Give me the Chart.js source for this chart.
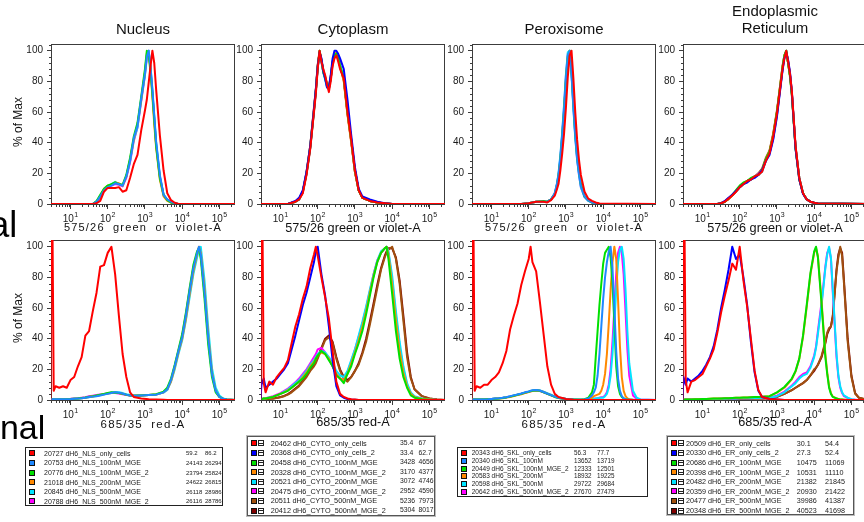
<!DOCTYPE html>
<html><head><meta charset="utf-8">
<script src="https://cdn.jsdelivr.net/npm/chart.js@4.4.1/dist/chart.umd.min.js"></script>
<style>
html,body{margin:0;padding:0;background:#fff;}
body{width:864px;height:522px;overflow:hidden;position:relative;font-family:"Liberation Sans",Arial,Helvetica,sans-serif;color:#111;}
.t{position:absolute;white-space:pre;line-height:1;}
canvas{position:absolute;}
.box{position:absolute;box-sizing:border-box;}
.sw{position:absolute;width:6px;height:6px;box-sizing:border-box;border:1px solid #111;}
.ic{position:absolute;width:6px;height:6px;box-sizing:border-box;border:1px solid #222;background:linear-gradient(#222,#222) center/100% 1px no-repeat #fff;}
</style></head><body>
<script>
// ---------------- axis / tick data ----------------
const xTickValues = [10, 100, 1000, 10000, 100000];
const xTickExponents = ["1", "2", "3", "4", "5"];
const yTickValues = [0, 20, 40, 60, 80, 100];
const xMin = 3, xMax = 262144, yMin = 0, yMax = 104.4;
const columnTitles = ["Nucleus", "Cytoplasm", "Peroxisome", "Endoplasmic\nReticulum"];
const rowAxisTitles = ["575/26 green or violet-A", "685/35 red-A"];
const yAxisTitle = "% of Max";
const sideLabels = ["al", "nal"];

// ---------------- Nucleus, top (575/26) ----------------
const n1LogX = [0.46,1.6,1.7,1.8,1.9,2.0,2.1,2.2,2.3,2.4,2.5,2.6,2.7,2.8,2.9,3.0,3.05,3.1,3.15,3.2,3.25,3.3,3.4,3.5,3.6,3.7,3.8,3.9,5.45];
const n1Red     = [0,0,0.5,2,8,10.5,10.5,10.5,11,8, 9,17,26,32,48,61,68,79,90,100, 92,75,45,22,7,2.5,0.8,0,0];
const n1Blue    = [0,0,1.5,5,9,11,12,13.5,13,12, 18,28,43,51,69,85,96,100,89,75, 58,41,19,6,3,1.5,0.5,0,0];
const n1Green   = [0,0,2,6,10,12,13,14,13,12.5, 19,30,44,53,70,88,100,97,86,72, 55,38,17,6,2.5,1,0.3,0,0];
const n1Orange  = [0,0,1.5,5,10,12,12.5,14,13.5,12, 18,29,42,52,68,86,98,99,88,70, 52,37,16,5,2,1,0.3,0,0];
const n1Cyan    = [0,0,1.5,5,9.5,12,13,14.5,13,12, 18,28,42,50,68,84,97,100,90,74, 57,40,18,6,2.5,1,0.4,0,0];
const n1Magenta = [0,0,1,4,9,11,12,13,12.5,11.5, 17,27,41,50,67,84,95,100,88,73, 56,39,18,6,2.5,1,0.4,0,0];

// ---------------- Nucleus, bottom (685/35) ----------------
const n2LogX = [0.46,0.49,0.55,0.6,0.7,0.8,0.9,1.0,1.1,1.2,1.3,1.4,1.5,1.6,1.7,1.8,1.9,2.0,2.1,2.2,2.3,2.4,2.5,2.6,2.7,2.9,3.1,3.3,3.5,3.6,3.7,3.8,3.9,4.0,4.1,4.2,4.3,4.4,4.45,4.5,4.6,4.7,4.8,4.9,5.0,5.1,5.2,5.45];
const n2Red     = [0,200,6,9,8,9,8,13,15,22, 28,42,45,58,70,87,88,96,100,82, 55,30,15,5,2,1,0.5,0.3,0.2,0, 0,0,0,0,0,0,0,0,0,0, 0,0,0,0,0,0,0,0];
const n2Blue    = [0,0.5,0.5,0.5,0.5,0.5,0.5,0.5,0.8,1, 1.2,1.5,2,2.2,2.5,3,3.5,4,4.5,5, 4.8,4.2,3.5,3,2.8,3,3.2,3.5,5,7, 13,22,32,41,55,71,86,96,100,95, 70,40,17,6,2,0.8,0.3,0];
const n2Green   = [0,0.3,0.3,0.3,0.4,0.4,0.5,0.6,0.8,1, 1.3,1.6,2.2,2.5,3,3.5,4,4.5,5,4.8, 4.5,4,3.4,3,2.8,3,3.3,3.8,5.5,8, 14,23,33,43,57,73,88,97,99,92, 66,36,15,5,2,0.7,0.3,0];
const n2Orange  = [0,0.3,0.3,0.4,0.4,0.5,0.5,0.6,0.8,1, 1.2,1.5,2,2.3,2.7,3.2,3.7,4.2,4.6,4.8, 4.6,4.1,3.5,3,2.9,3,3.3,3.6,5,7, 12,21,31,40,53,69,84,95,100,96, 73,42,18,6,2,0.8,0.3,0];
const n2Cyan    = [0,0.4,0.4,0.4,0.5,0.5,0.6,0.6,0.8,1, 1.2,1.4,1.8,2.2,2.6,3.2,3.8,4.3,4.8,5.2, 5,4.5,3.8,3.2,3,3.1,3.3,3.6,4.8,6.5, 12,20,30,39,52,67,82,93,98,100, 78,47,21,8,3,1,0.4,0];
const n2Magenta = [0,0.3,0.3,0.4,0.5,0.6,0.7,0.8,1,1.2, 1.5,1.8,2.4,2.8,3.2,3.6,4,4.4,4.7,4.6, 4.3,3.8,3.2,2.9,2.8,3,3.2,3.6,5,7, 13,22,32,42,56,72,86,96,99,94, 70,40,17,6,2,0.8,0.3,0];

// ---------------- Cytoplasm, top ----------------
const c1LogX = [0.46,1.2,1.4,1.5,1.6,1.7,1.8,1.9,1.95,2.0,2.05,2.1,2.15,2.2,2.25,2.3,2.35,2.4,2.45,2.5,2.55,2.6,2.7,2.8,2.9,3.0,3.1,3.2,3.4,3.6,3.8,4.0,5.45];
const c1Red     = [0,0,1.5,3,7,19,36,60,72,88, 100,93,88,84,78,73,80,90,95,97, 93,88,82,60,42,22,9,4,2,1, 0.5,0,0];
const c1Blue    = [0,0,2,4,9,21,38,62,75,90, 99,95,87,82,76,76,84,95,100,100, 98,95,88,68,45,24,10,5,3,1.5, 0.5,0,0];
const c1Green   = [0,0,1.5,3,8,20,37,61,74,89, 100,94,86,82,78,76,82,92,97,98, 95,90,82,60,42,22,9,4,2,1, 0.4,0,0];
const c1Orange  = [0,0,1.5,3.5,8,20,38,62,74,90, 99,94,87,83,79,77,83,93,97,99, 96,90,80,58,40,21,9,4,2,1, 0.4,0,0];
const c1Cyan    = [0,0,1.5,3,8,20,37,61,73,89, 98,93,86,81,76,75,82,93,98,99, 96,91,82,60,42,22,9,4,2,1, 0.4,0,0];
const c1Magenta = [0,0,1.5,3,8,20,37,62,74,89, 99,93,86,82,77,75,82,91,96,98, 95,90,82,60,41,22,9,4,2,1, 0.4,0,0];
const c1Brown   = [0,0,1.5,3,8,21,38,63,75,91, 100,94,87,83,78,76,83,93,97,98, 96,90,81,59,41,21,9,4,2,1, 0.4,0,0];
const c1DarkRed = [0,0,1.5,3,8,20,37,61,74,90, 99,93,86,82,77,75,82,92,97,98, 95,90,81,59,41,21,9,4,2,1, 0.4,0,0];

// ---------------- Cytoplasm, bottom ----------------
const c2LogX = [0.46,0.49,0.55,0.6,0.7,0.8,0.9,1.0,1.1,1.2,1.3,1.4,1.5,1.6,1.7,1.8,1.9,1.95,2.0,2.1,2.2,2.3,2.4,2.5,2.6,2.7,2.8,2.9,3.0,3.1,3.2,3.3,3.4,3.5,3.6,3.7,3.8,3.85,3.9,4.0,4.1,4.2,4.3,4.4,4.5,4.6,4.8,5.0,5.2,5.45];
const c2Red     = [0,200,11,5,12,10,15,18,21,26, 37,48,56,66,74,86,95,100,94,80, 67,53,32,12,4,2,1,0.5,0.3,0, 0,0,0,0,0,0,0,0,0,0, 0,0,0,0,0,0,0,0,0,0];
const c2Blue    = [0,10,14,8,10,12,14,17,20,24, 33,42,52,62,70,80,90,97,100,82, 68,48,26,9,3,1.5,0.7,0.3,0.2,0, 0,0,0,0,0,0,0,0,0,0, 0,0,0,0,0,0,0,0,0,0];
const c2Green   = [0,0.5,1,1,1.5,2,3,4,5,6, 8,10,12,14,17,21,24,27,29,32, 30,26,22,16,14,11,17,22,30,37, 45,56,68,80,90,96,99,100,92,69, 45,27,15,8,3,1.5,0.5,0.2,0,0];
const c2Orange  = [0,0.5,1,1,1.5,2,3,4,5,6.5, 8,10,12,15,18,22,25,27,29,31, 30,27,22,17,14,13,17,24,31,39, 48,58,70,81,90,96,99,100,95,75, 52,32,18,9,4,2,0.7,0.3,0,0];
const c2Cyan    = [0,0.5,1,1.2,1.6,2.2,3,4,5.5,7, 9,11,13,16,19,23,26,28,30,32, 31,28,24,19,16,15,19,26,33,42, 51,61,72,82,91,97,99,100,97,81, 58,38,22,11,5,2.5,1,0.4,0,0];
const c2Magenta = [0,0.5,1,1.2,1.8,2.5,3.5,4.5,6,7.5, 9.5,11.5,14,17,20,24,28,30,33,34, 31,27,22,17,14,13,18,25,33,41, 50,60,71,82,91,96,99,100,96,78, 55,35,20,10,4.5,2,0.8,0.3,0,0];
const c2Brown   = [0,0.3,0.5,0.6,0.8,1,1.3,1.8,2.5,3.5, 5,7,9,12,15,19,22,24,27,33, 39,41,37,27,19,14,12,15,19,23, 30,38,49,61,73,85,93,96,98,100, 92,76,52,28,14,7,2.5,1,0.3,0];
const c2DarkRed = [0,0.3,0.5,0.6,0.8,1,1.4,2,2.7,3.8, 5.5,7.5,9.5,12.5,16,20,23,25,28,34, 40,42,38,28,20,15,13,15,19,24, 31,40,51,63,75,86,94,97,99,99, 93,78,55,31,15,7,2.5,1,0.3,0];

// ---------------- Peroxisome, top ----------------
const p1LogX = [0.46,1.8,2.0,2.2,2.4,2.5,2.6,2.7,2.75,2.8,2.85,2.9,2.95,3.0,3.05,3.1,3.15,3.2,3.25,3.3,3.35,3.4,3.5,3.6,3.7,3.8,3.9,5.45];
const p1Red     = [0,0,0.5,1.5,1.5,1,2.5,5.5,9,13, 22,33,46,63,83,97,100,82,60,42, 29,19,8,3.5,2,1,0.3,0];
const p1Blue    = [0,0,0.5,1.5,1.5,1.5,3,7,12,19, 30,45,62,82,97,100,85,64,45,30, 20,12,5,2.5,1,0.5,0,0];
const p1Green   = [0,0,0.5,1.5,2,1.5,3,6.5,11,18, 29,44,61,81,96,100,87,66,46,31, 21,13,5,2.5,1,0.5,0,0];
const p1Orange  = [0,0,0.5,1.5,1.5,1.5,3,6.5,11,18, 28,42,60,80,95,100,88,68,48,33, 22,13,5,2.5,1,0.5,0,0];
const p1Cyan    = [0,0,0.5,1.5,1.5,1.5,3,7,12,20, 32,47,65,85,99,100,84,62,43,29, 19,11,4.5,2,1,0.4,0,0];
const p1Magenta = [0,0,0.5,1.5,1.5,1.5,3,7,12,19, 31,46,64,84,98,99,85,63,44,29, 19,11,4.5,2,1,0.4,0,0];

// ---------------- Peroxisome, bottom ----------------
const p2LogX = [0.46,0.49,0.55,0.6,0.7,0.8,0.9,1.0,1.1,1.2,1.3,1.4,1.5,1.6,1.7,1.8,1.9,2.0,2.05,2.1,2.2,2.3,2.4,2.5,2.6,2.7,2.8,3.0,3.2,3.4,3.5,3.6,3.7,3.75,3.8,3.85,3.9,3.95,4.0,4.05,4.1,4.15,4.2,4.25,4.3,4.35,4.4,4.45,4.5,4.55,4.6,4.65,4.7,4.8,4.9,5.0,5.45];
const p2Red     = [0,200,6,9,8,10,10,13,15,18, 24,32,46,55,63,75,84,92,100,90, 84,64,43,22,10,4,2,0.7,0.2,0, 0,0,0,0,0,0,0,0,0,0, 0,0,0,0,0,0,0,0,0,0, 0,0,0,0,0,0,0];
const p2Blue    = [0,0.3,0.3,0.3,0.4,0.4,0.5,0.7,0.9,1.1, 1.4,1.8,2.4,3,3.6,4.2,5,5.6,6,6.3, 6.5,6.2,5.2,4.2,3.2,2.2,1.4,0.6,0.3,0.2, 0.3,1,3,5,8,16,30,48,66,80, 90,97,100,86,60,32,14,6,2.5,1, 0.5,0.3,0.2,0.1,0,0,0];
const p2Green   = [0,0.3,0.3,0.3,0.3,0.4,0.5,0.6,0.8,1, 1.3,1.7,2.2,2.8,3.4,4,4.8,5.4,5.8,6, 6.3,6,5,4,3,2,1.3,0.5,0.3,0.2, 0.5,1.5,5,10,28,45,62,76,89,96, 98,100,93,76,50,22,9,4,2,1, 0.5,0.3,0.2,0,0,0,0];
const p2Orange  = [0,0.3,0.3,0.3,0.3,0.4,0.5,0.6,0.8,1, 1.2,1.6,2,2.6,3.2,3.8,4.5,5.2,5.6,5.9, 6.2,6,5.2,4.2,3.2,2.2,1.4,0.6,0.3,0.2, 0.2,0.5,1.5,2.5,3,3.5,4,6,10,17, 30,50,72,90,100,92,65,35,15,6, 2.5,1,0.5,0.2,0,0,0];
const p2Cyan    = [0,0.4,0.4,0.4,0.4,0.5,0.6,0.7,0.9,1.1, 1.4,1.8,2.3,2.9,3.5,4.1,4.8,5.4,5.8,6.1, 6.4,6.2,5.4,4.4,3.4,2.4,1.6,0.8,0.4,0.3, 0.2,0.4,0.6,0.8,1,1.2,1.4,1.5,1.5,2.5, 4,8,16,30,50,72,90,98,100,92, 72,45,24,6,1.5,0.4,0];
const p2Magenta = [0,0.3,0.3,0.4,0.4,0.5,0.6,0.7,0.9,1.1, 1.4,1.8,2.3,2.9,3.5,4.1,4.7,5.3,5.7,6, 6.2,5.9,5,4,3,2.1,1.3,0.6,0.3,0.2, 0.2,0.4,0.6,0.8,1,1.2,1.5,1.8,2,3, 5,10,20,38,60,82,96,100,96,82, 58,33,16,3,0.8,0.3,0];

// ---------------- Endoplasmic Reticulum, top ----------------
const e1LogX = [0.46,1.4,1.5,1.6,1.7,1.8,1.9,2.0,2.1,2.2,2.3,2.4,2.5,2.6,2.7,2.8,2.9,3.0,3.1,3.15,3.2,3.25,3.3,3.35,3.4,3.5,3.6,3.7,3.8,3.9,4.0,4.1,5.45];
const e1Red     = [0,0,0.5,1.5,3.5,5.5,8,11,13,15, 16,18,19,21,28,33,44,59,78,88, 95,100,93,85,74,38,17,7,3,1.5, 0.8,0.3,0];
const e1Blue    = [0,0,0.5,2,4,6,8.5,11,13,14, 16,17,19,22,28,32,42,57,77,87, 95,99,94,86,73,36,16,6.5,3,1.5, 0.8,0.3,0];
const e1Green   = [0,0,0.5,1.5,3.5,6,9,12,14,15, 17,18,19,22,29,34,44,60,79,89, 97,100,92,83,71,36,16,7,3,1.5, 0.8,0.3,0];
const e1Orange  = [0,0,0.5,1.5,3,5.5,8,11,13,15, 16,18,19,22,29,34,45,60,80,90, 97,99,92,84,72,37,16,7,3,1.5, 0.8,0.3,0];
const e1Cyan    = [0,0,0.5,1.5,3.5,5.5,8,11,13,14.5, 16,17.5,19,21,28,33,43,58,78,88, 96,100,93,85,73,37,17,7,3,1.5, 0.8,0.3,0];
const e1Magenta = [0,0,0.5,1.5,3.5,5.5,8,11,13,15, 16.5,18,19.5,22,28,33,43,58,78,88, 96,99,93,85,73,37,16,7,3,1.5, 0.8,0.3,0];
const e1Brown   = [0,0,0.5,1.5,3.5,5.5,8,11,13,15, 16,18,20,23,30,35,46,61,80,90, 97,100,92,84,72,37,17,7,3,1.5, 0.8,0.3,0];
const e1DarkRed = [0,0,0.5,1.5,3.5,5.5,8,11,13,15, 16,18,19,22,29,34,45,60,79,89, 96,99,92,84,72,37,17,7,3,1.5, 0.8,0.3,0];

// ---------------- Endoplasmic Reticulum, bottom ----------------
const e2LogX = [0.46,0.49,0.55,0.6,0.7,0.8,0.9,1.0,1.1,1.2,1.3,1.4,1.5,1.6,1.7,1.8,1.9,2.0,2.1,2.2,2.3,2.4,2.5,2.6,2.8,3.0,3.2,3.4,3.5,3.6,3.7,3.8,3.9,4.0,4.05,4.1,4.2,4.3,4.35,4.4,4.45,4.5,4.6,4.65,4.7,4.75,4.8,4.9,5.0,5.1,5.2,5.45];
const e2Red     = [0,200,13,5,12,13,15,17,22,27, 33,44,57,68,78,89,85,100,78,61, 40,19,6.5,2,0.7,0.3,0,0,0,0, 0,0,0,0,0,0,0,0,0,0, 0,0,0,0,0,0,0,0,0,0, 0,0];
const e2Blue    = [0,15,10,14,12,14,16,19,23,28, 35,46,60,72,85,100,92,95,80,62, 38,18,6,2,0.7,0.3,0,0,0,0, 0,0,0,0,0,0,0,0,0,0, 0,0,0,0,0,0,0,0,0,0, 0,0];
const e2Green   = [0,0.2,0.3,0.3,0.4,0.5,0.5,0.6,0.7,0.8, 0.9,1,1,1.1,1.2,1.3,1.4,1.5,1.6,1.7, 1.8,1.9,2,2.2,2.5,5,8.5,14,19,27, 42,62,83,97,100,93,62,28,17,8, 4,2,1,0.6,0.4,0.3,0.2,0,0,0, 0,0];
const e2Orange  = [0,0.2,0.3,0.3,0.4,0.5,0.5,0.6,0.7,0.8, 0.9,1,1,1.1,1.2,1.3,1.4,1.5,1.6,1.7, 1.8,1.9,2,2.2,2.5,4.8,8,13.5,18.5,27, 41,61,82,96,99,94,64,30,18,9, 4.5,2.2,1.1,0.7,0.4,0.3,0.2,0,0,0, 0,0];
const e2Cyan    = [0,0.2,0.2,0.3,0.3,0.4,0.4,0.5,0.5,0.6, 0.6,0.7,0.8,0.8,0.9,1,1,1.1,1.1,1.2, 1.2,1.3,1.3,1.4,1.5,2.5,5,9,11,14, 16,17,21,28,34,43,62,86,95,100, 93,72,30,16,9,5,3,1.5,0.5,0.2, 0,0];
const e2Magenta = [0,0.2,0.2,0.3,0.3,0.4,0.4,0.5,0.5,0.6, 0.6,0.7,0.8,0.8,0.9,1,1,1.1,1.1,1.2, 1.2,1.3,1.3,1.4,1.6,2.8,5.5,9.5,12,15, 17,18,22,29,35,45,64,87,96,99, 92,70,28,15,8,4.5,2.5,1.2,0.4,0.2, 0,0];
const e2Brown   = [0,0.1,0.1,0.1,0.2,0.2,0.2,0.3,0.3,0.3, 0.4,0.4,0.5,0.5,0.5,0.6,0.6,0.7,0.7,0.8, 0.8,0.9,0.9,1,1.2,2,4,6.5,8,9.5, 11,13,16,20,21,23,29,38,44,47, 48,54,84,93,100,94,76,38,15,4, 1.5,0];
const e2DarkRed = [0,0.1,0.1,0.1,0.2,0.2,0.2,0.3,0.3,0.3, 0.4,0.4,0.5,0.5,0.5,0.6,0.6,0.7,0.7,0.8, 0.8,0.9,0.9,1,1.2,2,4,6.5,8,9.5, 11,13,16,19,21,23,28,37,43,46, 48,55,85,95,99,96,78,40,16,4.5, 1.5,0];

// ---------------- legend tables ----------------
const nucIds = ["20727","20753","20776","21018","20845","20788"];
const nucNames = ["dH6_NLS_only_cells","dH6_NLS_100nM_MGE","dH6_NLS_100nM_MGE_2","dH6_NLS_200nM_MGE","dH6_NLS_500nM_MGE","dH6_NLS_500nM_MGE_2"];
const nucMedian = ["59.2","24143","23794","24622","26118","26116"];
const nucMean = ["86.2","26294","25824","26815","28986","28786"];

const cytoIds = ["20462","20368","20458","20328","20521","20475","20511","20412"];
const cytoNames = ["dH6_CYTO_only_cells","dH6_CYTO_only_cells_2","dH6_CYTO_100nM_MGE","dH6_CYTO_100nM_MGE_2","dH6_CYTO_200nM_MGE","dH6_CYTO_200nM_MGE_2","dH6_CYTO_500nM_MGE","dH6_CYTO_500nM_MGE_2"];
const cytoMedian = ["35.4","33.4","3428","3170","3072","2952","5236","5304"];
const cytoMean = ["67","62.7","4656","4377","4746","4590","7973","8017"];

const sklIds = ["20343","20340","20449","20583","20598","20642"];
const sklNames = ["dH6_SKL_only_cells","dH6_SKL_100nM","dH6_SKL_100nM_MGE_2","dH6_SKL_200nM","dH6_SKL_500nM","dH6_SKL_500nM_MGE_2"];
const sklMedian = ["56.3","13652","12333","18932","29722","27670"];
const sklMean = ["77.7","13719","12501","19225","29684","27479"];

const erIds = ["20509","20330","20686","20398","20482","20359","20477","20348"];
const erNames = ["dH6_ER_only_cells","dH6_ER_only_cells_2","dH6_ER_100nM_MGE","dH6_ER_100nM_MGE_2","dH6_ER_200nM_MGE","dH6_ER_200nM_MGE_2","dH6_ER_500nM_MGE","dH6_ER_500nM_MGE_2"];
const erMedian = ["30.1","27.3","10475","10531","21382","20930","39986","40523"];
const erMean = ["54.4","52.4","11069","11110","21845","21422","41387","41698"];

// ---------------- styles & layout ----------------
const COL = {red:"#ff0000", dblue:"#1e88ff", blue:"#0000ff", green:"#00e000", orange:"#ff8800",
             cyan:"#00e4ff", magenta:"#ff00ff", brown:"#a0500f", darkred:"#800000"};
const nucColors = [COL.red, COL.dblue, COL.green, COL.orange, COL.cyan, COL.magenta];
const cytoColors = [COL.red, COL.blue, COL.green, COL.orange, COL.cyan, COL.magenta, COL.brown, COL.darkred];
const sklColors = nucColors;
const erColors = cytoColors;
const FONT = '"Liberation Sans", Arial, Helvetica, sans-serif';
const FRAME = "#3c3c3c", TEXT = "#1a1a1a";
const colLeft = [51, 261, 472, 683];
const rowTop = [42, 238];
const plotW = 184, plotH = 162;
const padL = 40, padT = 8, padR = 8, padB = 22;

const panels = [
  {col:0,row:0,logX:n1LogX,series:[n1Red,n1Blue,n1Green,n1Orange,n1Cyan,n1Magenta],colors:nucColors},
  {col:1,row:0,logX:c1LogX,series:[c1Red,c1Blue,c1Green,c1Orange,c1Cyan,c1Magenta,c1Brown,c1DarkRed],colors:cytoColors},
  {col:2,row:0,logX:p1LogX,series:[p1Red,p1Blue,p1Green,p1Orange,p1Cyan,p1Magenta],colors:sklColors},
  {col:3,row:0,logX:e1LogX,series:[e1Red,e1Blue,e1Green,e1Orange,e1Cyan,e1Magenta,e1Brown,e1DarkRed],colors:erColors},
  {col:0,row:1,logX:n2LogX,series:[n2Red,n2Blue,n2Green,n2Orange,n2Cyan,n2Magenta],colors:nucColors},
  {col:1,row:1,logX:c2LogX,series:[c2Red,c2Blue,c2Green,c2Orange,c2Cyan,c2Magenta,c2Brown,c2DarkRed],colors:cytoColors},
  {col:2,row:1,logX:p2LogX,series:[p2Red,p2Blue,p2Green,p2Orange,p2Cyan,p2Magenta],colors:sklColors},
  {col:3,row:1,logX:e2LogX,series:[e2Red,e2Blue,e2Green,e2Orange,e2Cyan,e2Magenta,e2Brown,e2DarkRed],colors:erColors}
];

const axisDecor = {
  id: 'axisDecor',
  beforeDatasetsDraw(chart) {
    const {ctx, chartArea: a} = chart;
    ctx.save();
    ctx.strokeStyle = FRAME; ctx.lineWidth = 1;
    ctx.strokeRect(a.left + 0.5, a.top + 0.5, a.right - a.left - 1, a.bottom - a.top);
    ctx.restore();
  },
  afterDraw(chart) {
    const {ctx, chartArea: a, scales: {x, y}} = chart;
    ctx.save();
    ctx.strokeStyle = FRAME; ctx.lineWidth = 1;
    ctx.beginPath();
    for (let d = 0; d < 6; d++) {
      for (let k = 2; k <= 9; k++) {
        const v = k * Math.pow(10, d);
        if (v < xMin || v > xMax) continue;
        const px = Math.round(x.getPixelForValue(v)) + 0.5;
        ctx.moveTo(px, a.bottom); ctx.lineTo(px, a.bottom + 3);
      }
    }
    for (let v = 4; v < yMax; v += 4) {
      if (v % 20 === 0) continue;
      const py = Math.round(y.getPixelForValue(v)) + 0.5;
      ctx.moveTo(a.left - 2, py); ctx.lineTo(a.left, py);
    }
    ctx.stroke();
    ctx.fillStyle = TEXT;
    ctx.textBaseline = 'alphabetic';
    xTickValues.forEach((v, i) => {
      const px = x.getPixelForValue(v);
      ctx.font = '10px ' + FONT;
      const w1 = ctx.measureText('10').width;
      ctx.font = '7px ' + FONT;
      const w2 = ctx.measureText(xTickExponents[i]).width;
      const x0 = px - (w1 + w2 + 0.5) / 2;
      ctx.font = '10px ' + FONT;
      ctx.fillText('10', x0, a.bottom + 17.5);
      ctx.font = '7px ' + FONT;
      ctx.fillText(xTickExponents[i], x0 + w1 + 0.5, a.bottom + 12.5);
    });
    ctx.restore();
  }
};

function makePanel(p) {
  const L = colLeft[p.col], T = rowTop[p.row];
  const cv = document.createElement('canvas');
  cv.width = plotW + padL + padR; cv.height = plotH + padT + padB;
  cv.style.left = (L - padL) + 'px'; cv.style.top = (T - padT) + 'px';
  cv.style.width = cv.width + 'px'; cv.style.height = cv.height + 'px';
  document.body.appendChild(cv);
  const datasets = p.series.map((ys, i) => ({
    data: p.logX.map((lg, j) => ({x: Math.pow(10, lg), y: ys[j]})),
    borderColor: p.colors[i], backgroundColor: p.colors[i],
    borderWidth: 2, pointRadius: 0, tension: 0, fill: false, borderJoinStyle: 'round'
  }));
  new Chart(cv, {
    type: 'line',
    data: {datasets},
    options: {
      responsive: false, animation: false, devicePixelRatio: 1,
      layout: {padding: {left: 0, top: padT, right: padR, bottom: 0}},
      plugins: {legend: {display: false}, tooltip: {enabled: false}, title: {display: false}},
      scales: {
        x: {
          type: 'logarithmic', min: xMin, max: xMax,
          afterBuildTicks: s => { s.ticks = xTickValues.map(v => ({value: v, major: true})); },
          ticks: {display: false},
          grid: {drawOnChartArea: false, drawTicks: true, tickLength: 5, color: FRAME, lineWidth: 1},
          border: {display: false},
          afterFit: s => { s.height = padB; }
        },
        y: {
          type: 'linear', min: yMin, max: yMax,
          afterBuildTicks: s => { s.ticks = yTickValues.map(v => ({value: v})); },
          ticks: {font: {size: 10, family: FONT}, color: TEXT, padding: 4},
          grid: {drawOnChartArea: false, drawTicks: true, tickLength: 4, color: FRAME, lineWidth: 1},
          border: {display: false},
          afterFit: s => { s.width = padL; }
        }
      }
    },
    plugins: [axisDecor]
  });
}
panels.forEach(makePanel);

// ---------------- texts ----------------
function txt(s, left, top, css) {
  const d = document.createElement('div');
  d.className = 't'; d.textContent = s;
  d.style.left = left + 'px'; d.style.top = top + 'px';
  Object.assign(d.style, css || {});
  document.body.appendChild(d);
  return d;
}
function ctxt(s, cx, top, css) {
  return txt(s, cx - 150, top, Object.assign({width: '300px', textAlign: 'center'}, css || {}));
}
columnTitles.forEach((s, c) => {
  const cx = colLeft[c] + plotW / 2;
  if (s.indexOf('\n') >= 0) ctxt(s, cx, 3.2, {fontSize: '15px', lineHeight: '16.6px'});
  else ctxt(s, cx, 21.3, {fontSize: '15px'});
});
const spacedCols = [0, 2];
[0, 1].forEach(r => {
  [0, 1, 2, 3].forEach(c => {
    const cx = colLeft[c] + plotW / 2;
    if (spacedCols.indexOf(c) >= 0) {
      const fs = r === 0 ? 11 : 11.5;
      const base = r === 0 ? 231.7 : 428.3;
      ctxt(rowAxisTitles[r], cx, base - 0.8465 * fs, {fontSize: fs + 'px', letterSpacing: '1.2px', wordSpacing: '4px'});
    } else {
      const fs = 12.7;
      const base = r === 0 ? 232.5 : 426.7;
      ctxt(rowAxisTitles[r], cx, base - 0.8465 * fs, {fontSize: fs + 'px'});
    }
  });
});
[122, 317.5].forEach(cy => {
  txt(yAxisTitle, 18.3 - 50, cy - 7, {width: '100px', height: '14px', lineHeight: '14px', textAlign: 'center', fontSize: '12px', transform: 'rotate(-90deg)'});
});
txt(sideLabels[0], -200, 237 - 0.8465 * 36, {width: '217.3px', textAlign: 'right', fontSize: '36px', color: '#000'});
txt(sideLabels[1], -200, 439 - 0.8465 * 34, {width: '245.3px', textAlign: 'right', fontSize: '34px', color: '#000'});

// ---------------- legends ----------------
function buildLegend(cfg, ids, names, meds, means, colors) {
  const b = document.createElement('div');
  b.className = 'box';
  Object.assign(b.style, {left: cfg.l + 'px', top: cfg.t + 'px', width: (cfg.r - cfg.l) + 'px', height: (cfg.b - cfg.t) + 'px', border: cfg.border, boxShadow: cfg.shadow || 'none'});
  document.body.appendChild(b);
  ids.forEach((id, i) => {
    const yc = cfg.y0 + i * cfg.dy;
    const sw = document.createElement('div');
    sw.className = 'sw'; sw.style.left = cfg.swX + 'px'; sw.style.top = (yc - 3) + 'px'; sw.style.background = colors[i];
    document.body.appendChild(sw);
    if (cfg.icX != null) {
      const ic = document.createElement('div');
      ic.className = 'ic'; ic.style.left = cfg.icX + 'px'; ic.style.top = (yc - 3) + 'px';
      document.body.appendChild(ic);
    }
    txt(id + ' ' + names[i], cfg.nameX, yc - 0.49 * cfg.fs, {fontSize: cfg.fs + 'px', color: TEXT});
    txt(meds[i], cfg.n1X, yc - 0.49 * cfg.fn, {fontSize: cfg.fn + 'px', color: TEXT});
    txt(means[i], cfg.n2X, yc - 0.49 * cfg.fn, {fontSize: cfg.fn + 'px', color: TEXT});
  });
}
buildLegend({l:25, t:447, r:223, b:506, y0:453.3, dy:9.6, swX:29, nameX:44, n1X:186, n2X:205, fs:7, fn:6, border:'1px solid #222'},
  nucIds, nucNames, nucMedian, nucMean, nucColors);
buildLegend({l:247, t:436, r:435, b:516, y0:443.3, dy:9.6, swX:250.7, icX:258.3, nameX:270.7, n1X:400, n2X:418.5, fs:7.3, fn:6.8, border:'1px solid #555', shadow:'0 0 0 1px #bbb'},
  cytoIds, cytoNames, cytoMedian, cytoMean, cytoColors);
buildLegend({l:457, t:447, r:648, b:497, y0:453.3, dy:7.7, swX:460.7, nameX:471.7, n1X:574, n2X:597, fs:6.5, fn:6.3, border:'1px solid #222'},
  sklIds, sklNames, sklMedian, sklMean, sklColors);
buildLegend({l:667, t:436, r:854, b:515, y0:443.3, dy:9.6, swX:670.7, icX:678.3, nameX:686, n1X:796.7, n2X:825, fs:7.2, fn:7.2, border:'1px solid #555', shadow:'0 0 0 1px #bbb'},
  erIds, erNames, erMedian, erMean, erColors);
</script>
</body></html>
